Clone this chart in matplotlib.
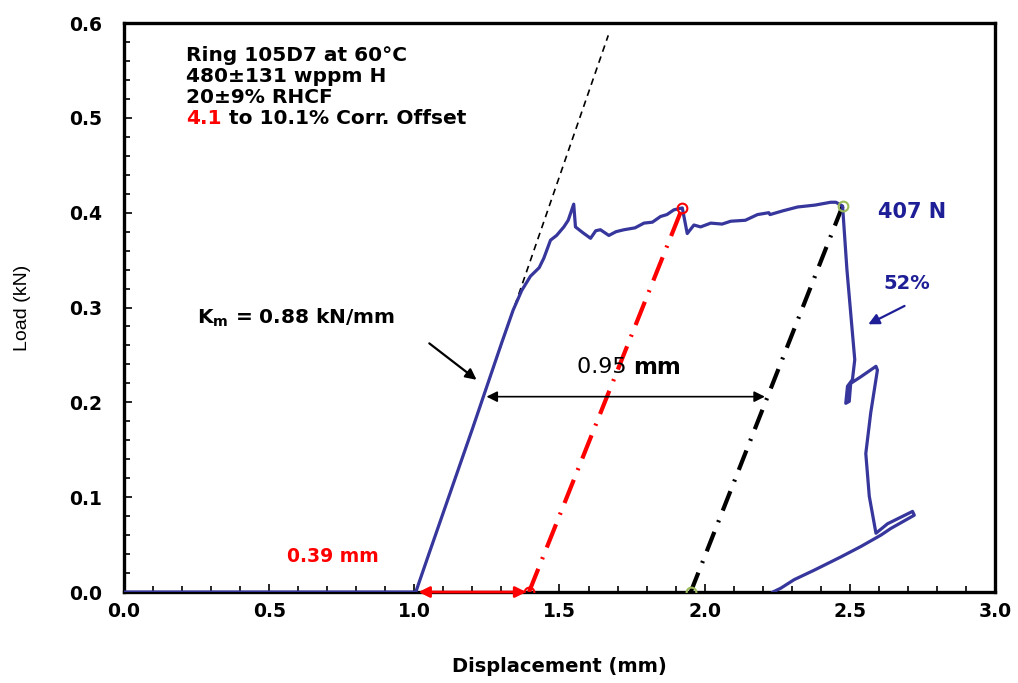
import matplotlib
matplotlib.use("Agg")
import matplotlib.pyplot as plt
from matplotlib.ticker import MultipleLocator, FormatStrFormatter

plt.rcParams['font.family'] = ['DejaVu Sans']

# Load-displacement curve (mm, kN)
disp = [0.0, 0.5, 0.99, 1.005, 1.05, 1.10, 1.15, 1.20, 1.25, 1.30, 1.34, 1.37, 1.40, 1.43,
        1.446, 1.469, 1.49, 1.515, 1.53, 1.549, 1.555, 1.58, 1.607, 1.625, 1.641, 1.670,
        1.695, 1.722, 1.76, 1.791, 1.82, 1.848, 1.87, 1.894, 1.923, 1.940, 1.963, 1.986,
        2.021, 2.06, 2.090, 2.14, 2.182, 2.221, 2.225, 2.27, 2.320, 2.38, 2.434, 2.452,
        2.475, 2.49, 2.509, 2.517, 2.509, 2.492, 2.486, 2.498, 2.503, 2.538, 2.590,
        2.595, 2.572, 2.555, 2.567, 2.590, 2.630, 2.716, 2.722, 2.641, 2.607, 2.538,
        2.469, 2.377, 2.308, 2.262, 2.235]
load = [0.0, 0.0, 0.0, 0.0, 0.040, 0.084, 0.128, 0.172, 0.217, 0.262, 0.297, 0.318, 0.333, 0.342,
        0.352, 0.371, 0.376, 0.385, 0.392, 0.409, 0.385, 0.379, 0.373, 0.381, 0.382, 0.376,
        0.380, 0.382, 0.384, 0.389, 0.390, 0.396, 0.398, 0.403, 0.405, 0.378, 0.387, 0.385,
        0.389, 0.388, 0.391, 0.392, 0.398, 0.400, 0.398, 0.402, 0.406, 0.408, 0.411, 0.411,
        0.407, 0.340, 0.273, 0.245, 0.224, 0.217, 0.199, 0.201, 0.220, 0.227, 0.238,
        0.234, 0.189, 0.146, 0.101, 0.062, 0.072, 0.085, 0.081, 0.067, 0.060, 0.048,
        0.037, 0.023, 0.013, 0.004, 0.0]

# Elastic loading line (K_m = 0.88 kN/mm)
elastic_x = [1.005, 1.668]
elastic_y = [0.0, 0.587]
# Offset unloading lines
red_x = [1.395, 1.923]
red_y = [0.0, 0.405]
black_x = [1.952, 2.475]
black_y = [0.0, 0.407]

xticks = [0.0, 0.5, 1.0, 1.5, 2.0, 2.5, 3.0]
yticks = [0.0, 0.1, 0.2, 0.3, 0.4, 0.5, 0.6]

fig = plt.figure(figsize=(10.18, 6.83), dpi=100)
ax = fig.add_axes([0.1218, 0.1332, 0.8556, 0.8331])

blue = '#36369C'
tblue = '#1E1E96'
BF = 'DejaVu Sans'

ax.plot(elastic_x, elastic_y, color='black', lw=1.2, ls=(0, (4, 3)), zorder=3)
ax.plot(red_x, red_y, color='#FF0000', lw=3, ls=(0, (6, 2.5, 0.5, 2.5)), zorder=3)
ax.plot(black_x, black_y, color='black', lw=3, ls=(0, (5, 2.5, 0.5, 2.5)), zorder=3)
ax.plot(disp, load, color=blue, lw=2.3, solid_joinstyle='round', zorder=4)

ax.plot([red_x[0], red_x[1]], [red_y[0], red_y[1]], ls='none', marker='o', ms=7,
        mfc='none', mec='#FF0000', mew=1.5, zorder=6)
ax.plot([black_x[0], black_x[1]], [black_y[0], black_y[1]], ls='none', marker='o', ms=7,
        mfc='none', mec='#9BBB59', mew=1.5, zorder=6)

# arrows
ax.annotate('', xy=(1.005, 0.0), xytext=(1.395, 0.0),
            arrowprops=dict(arrowstyle='<|-|>', color='#FF0000', lw=2, mutation_scale=16), zorder=5)
ax.annotate('', xy=(1.239, 0.206), xytext=(2.217, 0.206),
            arrowprops=dict(arrowstyle='<|-|>', color='black', lw=1.2, mutation_scale=16))
ax.annotate('', xy=(1.222, 0.222), xytext=(1.044, 0.264),
            arrowprops=dict(arrowstyle='-|>', color='black', lw=1.6, mutation_scale=16))
ax.annotate('', xy=(2.555, 0.281), xytext=(2.697, 0.303),
            arrowprops=dict(arrowstyle='-|>', color=tblue, lw=1.6, mutation_scale=16))

# texts
lines = ['Ring 105D7 at 60\u00b0C', '480\u00b1131 wppm H', '20\u00b19% RHCF']
ys = [0.566, 0.544, 0.521]
for s, yy in zip(lines, ys):
    ax.text(0.214, yy, s, fontsize=14.5, fontweight='bold', va='center', ha='left', family=BF)
t1 = ax.text(0.214, 0.499, '4.1', fontsize=14.5, fontweight='bold', va='center', ha='left',
             color='#FF0000', family=BF)
ax.annotate(' to 10.1% Corr. Offset', xy=(1, 0.5), xycoords=t1, va='center', ha='left',
            fontsize=14.5, fontweight='bold', family=BF)

ax.text(0.252, 0.289, r'K$_\mathregular{m}$ = 0.88 kN/mm', fontsize=14.5, fontweight='bold',
        va='center', ha='left', family=BF)
t2 = ax.text(1.559, 0.237, '0.95 ', fontsize=16, va='center', ha='left', family=BF)
ax.annotate('mm', xy=(1, 0.5), xycoords=t2, va='center', ha='left', fontsize=16.5,
            fontweight='bold', family=BF)
ax.text(0.72, 0.037, '0.39 mm', fontsize=13.5, fontweight='bold', color='#FF0000',
        va='center', ha='center', family=BF)
ax.text(2.597, 0.401, '407 N', fontsize=15, fontweight='bold', color=tblue, va='center',
        ha='left', family=BF)
ax.text(2.697, 0.325, '52%', fontsize=14, fontweight='bold', color=tblue, va='center',
        ha='center', family=BF)

ax.set_xlim(0, 3.0)
ax.set_ylim(0, 0.6)
ax.set_xticks(xticks)
ax.set_yticks(yticks)
ax.xaxis.set_major_formatter(FormatStrFormatter('%.1f'))
ax.yaxis.set_major_formatter(FormatStrFormatter('%.1f'))
ax.xaxis.set_minor_locator(MultipleLocator(0.1))
ax.yaxis.set_minor_locator(MultipleLocator(0.02))
ax.tick_params(which='both', direction='in', top=False, right=False, width=1.2)
ax.tick_params(which='major', length=6)
ax.tick_params(which='minor', length=4)
ax.tick_params(axis='x', which='major', pad=7, labelsize=13.5)
ax.tick_params(axis='y', which='major', pad=16, labelsize=13.5)
for lab in ax.get_xticklabels() + ax.get_yticklabels():
    lab.set_fontweight('bold')
for sp in ax.spines.values():
    sp.set_linewidth(2.4)

ax.set_xlabel('Displacement (mm)', fontsize=14, fontweight='bold', labelpad=26, family=BF)
ax.set_ylabel('Load (kN)', fontsize=14, labelpad=27, family='Liberation Sans')

fig.savefig('out.png', dpi=100)
